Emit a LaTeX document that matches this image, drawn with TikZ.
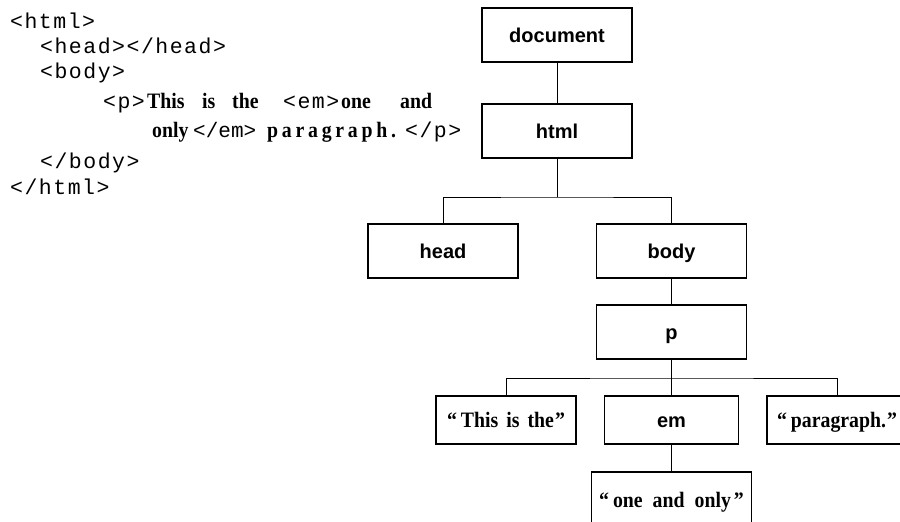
\documentclass[tikz,border=0pt]{standalone}
\usepackage{fontspec}
\setmainfont{Liberation Serif}
\newfontfamily\codefont[LetterSpace=7]{Liberation Mono}
\newfontfamily\codefontn{Liberation Mono}
\newfontfamily\lblfont{Liberation Sans}
\newfontfamily\serfont[FakeStretch=0.9]{Liberation Serif}
\newfontfamily\serifsp[FakeStretch=0.9,LetterSpace=17]{Liberation Serif}
\begin{document}
\begin{tikzpicture}[x=1pt,y=-1pt,
  box/.style={draw, line width=1.1pt, minimum width=150pt, minimum height=54pt, inner sep=0pt,
    font=\lblfont\bfseries\fontsize{20}{24}\selectfont, text height=14.3pt, text depth=0pt},
  tbox/.style={draw, line width=1.1pt, minimum height=48pt, inner sep=0pt,
    font=\serfont\bfseries\fontsize{22}{26}\selectfont, text height=14.6pt, text depth=0pt},
  code/.style={anchor=base west, inner sep=0pt, font=\codefont\fontsize{21.5}{25}\selectfont},
  coden/.style={anchor=base west, inner sep=0pt, font=\codefontn\fontsize{21}{25}\selectfont},
  ser/.style={anchor=base west, inner sep=0pt, font=\serfont\bfseries\fontsize{22}{26}\selectfont},
  link/.style={line width=1pt}]
\useasboundingbox (0,0) rectangle (900,522);
\fill[white] (0,0) rectangle (900,522);
\clip (0,0) rectangle (900,522);
% code listing
\node[code] (l1) at (10,28) {<html>};
\node[code] (l2) at (40,53) {<head></head>};
\node[code] (l3) at (40,78) {<body>};
\node[code] (l4a) at (103,108) {<p>};
\node[ser] (l4b) at (147,108) {This};
\node[ser] (l4c) at (202,108) {is};
\node[ser] (l4d) at (232,108) {the};
\node[code] (l4e) at (283,108) {<em>};
\node[ser] (l4f) at (341,108) {one};
\node[ser] (l4g) at (400,108) {and};
\node[ser] (l5a) at (152,137) {only};
\node[coden] (l5b) at (193,137) {</em>};
\node[ser, font=\serifsp\bfseries\fontsize{22}{26}\selectfont] (l5c) at (267,137) {paragraph.};
\node[code] (l5d) at (405,137) {</p>};
\node[code] (l6) at (40,168) {</body>};
\node[code] (l7) at (10,194) {</html>};
% tree
\node[box] (doc) at (557,35) {document};
\node[box] (html) at (557,131) {html};
\node[box] (head) at (443,251) {head};
\node[box] (body) at (671.5,251) {body};
\node[box] (p) at (671.5,332) {p};
\node[tbox, minimum width=140pt] (t1) at (506,420) {“\hspace{4pt}This\hspace{8pt}is\hspace{8pt}the\hspace{1pt}”};
\node[box, minimum width=134pt, minimum height=48pt] (em) at (671.5,420) {em};
\node[tbox, minimum width=140pt] (t2) at (837,420) {“\hspace{4pt}paragraph.\hspace{1pt}”};
\node[tbox, minimum width=160pt, minimum height=56pt] (t3) at (671.5,500) {“\hspace{4pt}one\hspace{10pt}and\hspace{10pt}only\hspace{3pt}”};
\coordinate (j1) at (557,197);
\coordinate (j2) at (671.5,378);
\draw[link] (doc) -- (html);
\draw[link] (html) -- (j1);
\draw[link] (head.north) |- (j1) -| (body.north);
\draw[link] (body) -- (p);
\draw[link] (p) -- (j2);
\draw[link] (t1.north) |- (j2) -| (t2.north);
\draw[link] (j2) -- (em);
\draw[link] (em) -- (t3);
\end{tikzpicture}
\end{document}
